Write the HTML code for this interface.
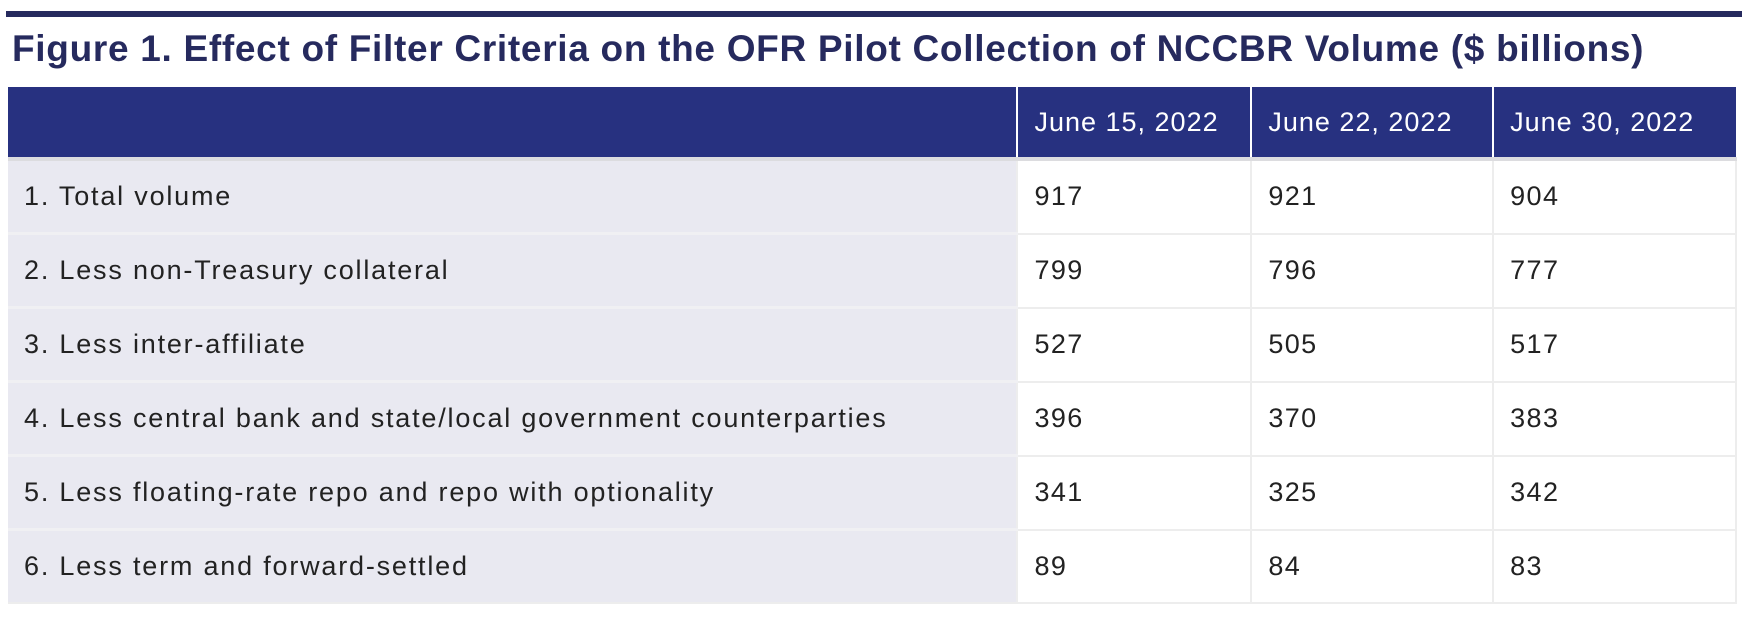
<!DOCTYPE html>
<html><head><style>
html,body{margin:0;padding:0;background:#fff;width:1748px;height:618px;overflow:hidden;font-family:"Liberation Sans",sans-serif}
.bar{position:absolute;left:6px;top:11px;width:1736px;height:6px;background:#262a5e}
.title{position:absolute;left:12px;top:28px;font-size:37px;font-weight:bold;color:#262a5e;white-space:nowrap;letter-spacing:0.7px}
table{position:absolute;left:8px;top:87px;border-collapse:collapse;width:1729px}
td,th{padding:0 0 0 16px;text-align:left;font-size:27px;white-space:nowrap;letter-spacing:1.4px}
th{background:#273180;color:#fff;font-weight:normal;height:70px;border-left:2px solid #fff;border-bottom:4px solid #dcdcdf;letter-spacing:1px}
th:first-child{border-left:none}
td{height:71px;color:#222;border-left:2px solid #ededed;border-bottom:2px solid #ededed;background:#fff}
td:first-child{background:#e9e9f1;border-left:none;border-bottom:3px solid #f0f0f3;letter-spacing:1.8px}
tr:last-child td{border-bottom:2px solid #ededed}
td:last-child{border-right:2px solid #ededed}
</style></head><body>
<div class="bar"></div>
<div class="title">Figure 1. Effect of Filter Criteria on the OFR Pilot Collection of NCCBR Volume ($ billions)</div>
<table>
<colgroup><col style="width:1010px"><col style="width:234px"><col style="width:242px"><col style="width:243px"></colgroup>
<tr><th></th><th>June 15, 2022</th><th>June 22, 2022</th><th>June 30, 2022</th></tr>
<tr><td>1. Total volume</td><td>917</td><td>921</td><td>904</td></tr>
<tr><td>2. Less non-Treasury collateral</td><td>799</td><td>796</td><td>777</td></tr>
<tr><td>3. Less inter-affiliate</td><td>527</td><td>505</td><td>517</td></tr>
<tr><td>4. Less central bank and state/local government counterparties</td><td>396</td><td>370</td><td>383</td></tr>
<tr><td>5. Less floating-rate repo and repo with optionality</td><td>341</td><td>325</td><td>342</td></tr>
<tr><td>6. Less term and forward-settled</td><td>89</td><td>84</td><td>83</td></tr>
</table>
</body></html>
